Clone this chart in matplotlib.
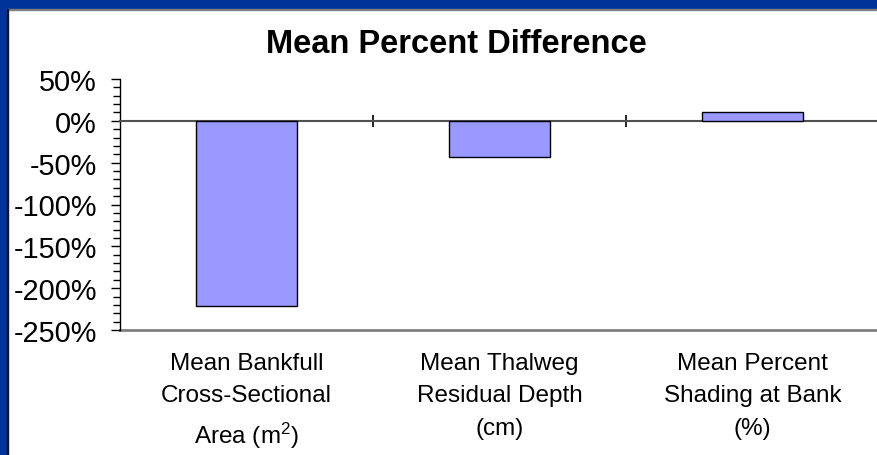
import matplotlib.pyplot as plt
from matplotlib.patches import Rectangle
from matplotlib.ticker import MultipleLocator, PercentFormatter
import numpy as np

categories = [
    "Mean Bankfull\nCross-Sectional\nArea (m$^2$)",
    "Mean Thalweg\nResidual Depth\n(cm)",
    "Mean Percent\nShading at Bank\n(%)",
]
percent_diff = [-221, -43, 10]

plt.rcParams["font.family"] = ["Liberation Sans", "DejaVu Sans"]
plt.rcParams["axes.unicode_minus"] = False
plt.rcParams["mathtext.fontset"] = "custom"
plt.rcParams["mathtext.rm"] = "Liberation Sans"
plt.rcParams["mathtext.it"] = "Liberation Sans"

W, H = 877, 456
fig = plt.figure(figsize=(W / 100, H / 100), dpi=100, facecolor="white")

# slide frame: blue band on the top and left edge
fig.patches.append(Rectangle((0, 1 - 10 / H), 1, 10 / H, transform=fig.transFigure,
                             color="#003399", zorder=0))
fig.patches.append(Rectangle((0, 0), 7 / W, 1, transform=fig.transFigure,
                             color="#003399", zorder=0))
fig.patches.append(Rectangle((7 / W, 1 - 11 / H), 1, 1 / H, transform=fig.transFigure,
                             color="#808080", zorder=0))
fig.patches.append(Rectangle((7 / W, 0), 1 / W, 1 - 10 / H, transform=fig.transFigure,
                             color="#101030", zorder=0))

ax = fig.add_axes([120 / W, 1 - 331 / H, 759 / W, 251 / H])
x = np.arange(len(categories))
ax.bar(x, percent_diff, width=0.4, color="#9999FF", edgecolor="black", linewidth=1, zorder=3)

ax.set_xlim(-0.5, len(categories) - 0.5)
ax.set_ylim(-250, 50)
ax.yaxis.set_major_locator(MultipleLocator(50))
ax.yaxis.set_minor_locator(MultipleLocator(10))
ax.yaxis.set_major_formatter(PercentFormatter(decimals=0))
ax.tick_params(axis="y", which="major", direction="out", length=6.5, width=1,
               labelsize=20.8, pad=10)
ax.tick_params(axis="y", which="minor", direction="out", length=5, width=1)

ax.spines["top"].set_visible(False)
ax.spines["right"].set_visible(False)
ax.spines["left"].set_color("black")
ax.spines["left"].set_linewidth(1)

# category axis crosses at zero, with dividers between categories
ax.spines["bottom"].set_position(("data", 0))
ax.spines["bottom"].set_color("#505050")
ax.spines["bottom"].set_linewidth(1.5)
ax.set_xticks(x[:-1] + 0.5)
ax.set_xticklabels([])
ax.tick_params(axis="x", direction="inout", length=8, width=1.2, color="black")

# plot area floor with the category labels
sec = ax.secondary_xaxis("bottom")
sec.spines["bottom"].set_color("#808080")
sec.spines["bottom"].set_linewidth(2)
sec.set_xticks(x)
sec.set_xticklabels(categories, fontsize=17.5, linespacing=1.6)
sec.tick_params(axis="x", length=0, pad=16)

fig.text(0.52, 1 - 53 / H, "Mean Percent Difference", ha="center", va="baseline",
         fontsize=23.5, fontweight="bold")

fig.savefig("out.png", dpi=100, facecolor="white")
